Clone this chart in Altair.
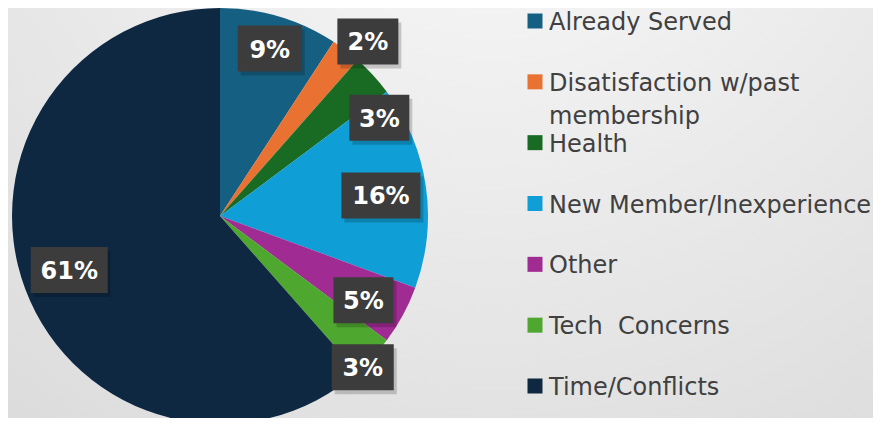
import altair as alt
import pandas as pd

# ---- data ----
CATEGORIES = ["Already Served", "Disatisfaction w/past membership", "Health",
              "New Member/Inexperience", "Other", "Tech\u00a0 Concerns", "Time/Conflicts"]
LEGEND_TEXT = ["Already Served", "Disatisfaction w/past\nmembership", "Health",
               "New Member/Inexperience", "Other", "Tech\u00a0 Concerns", "Time/Conflicts"]
VALUES = [9.2, 2.3, 3.3, 15.8, 4.6, 3.3, 61.5]
LABELS = ["9%", "2%", "3%", "16%", "5%", "3%", "61%"]
COLORS = ["#156082", "#E97132", "#196B24", "#0F9ED5", "#A02B93", "#4EA72E", "#0E2841"]

# ---- layout (label placement like the data-label "best fit") ----
LABEL_RADIUS = [0.84, 1.10, 0.90, 0.78, 0.80, 1.0, 0.77]
LABEL_SHIFT_DEG = [0, 3, 11, 1, 2, 4, 1]
BOX_WIDTH = [64, 61, 60, 79, 60, 62, 77]

W, H = 865, 410
CX, CY, R = 212, 208, 208
BOX_H = 46

df = pd.DataFrame({
    "idx": list(range(len(CATEGORIES))),
    "category": CATEGORIES,
    "legend": LEGEND_TEXT,
    "value": VALUES,
    "label": LABELS,
    "rfrac": LABEL_RADIUS,
    "shift": LABEL_SHIFT_DEG,
    "bw": BOX_WIDTH,
})

color = alt.Color("category:N", scale=alt.Scale(domain=CATEGORIES, range=COLORS), legend=None)

bg = alt.Chart(pd.DataFrame({"a": [0]})).mark_rect(
    fill=alt.RadialGradient(
        gradient="radial",
        stops=[alt.GradientStop(offset=0, color="#fbfbfb"),
               alt.GradientStop(offset=1, color="#d5d5d5")],
        x1=0.56, y1=0.02, r1=0, x2=0.56, y2=0.02, r2=1.1),
).encode(x=alt.value(0), x2=alt.value(W), y=alt.value(0), y2=alt.value(H))

base = alt.Chart(df)

pie = base.mark_arc(outerRadius=R).encode(
    theta=alt.Theta("value:Q", stack=True),
    color=color,
    order=alt.Order("idx:Q"),
    x=alt.value(CX), y=alt.value(CY),
)

lab = base.transform_window(
    cum="sum(value)", sort=[alt.SortField("idx")]
).transform_joinaggregate(
    total="sum(value)"
).transform_calculate(
    ang="2*PI*(datum.cum - datum.value/2)/datum.total + datum.shift*PI/180",
).transform_calculate(
    lx=f"{CX} + datum.rfrac*{R}*sin(datum.ang)",
    ly=f"{CY} - datum.rfrac*{R}*cos(datum.ang)",
    box=f"'M' + (-datum.bw/2) + ',{-BOX_H/2}H' + (datum.bw/2) + 'V{BOX_H/2}H' + (-datum.bw/2) + 'Z'",
)
xenc = alt.X("lx:Q", scale=alt.Scale(domain=[0, W], range=[0, W]), axis=None)
yenc = alt.Y("ly:Q", scale=alt.Scale(domain=[0, H], range=[0, H]), axis=None)

shadow = lab.mark_point(filled=True, size=4, color="#000000", opacity=0.18,
                        strokeWidth=0, xOffset=3, yOffset=4).encode(
    x=xenc, y=yenc, shape=alt.Shape("box:N", scale=None))
box = lab.mark_point(filled=True, size=4, color="#3c3c3c", opacity=1,
                     strokeWidth=0).encode(
    x=xenc, y=yenc, shape=alt.Shape("box:N", scale=None))
txt = lab.mark_text(color="white", font="DejaVu Sans", fontWeight="bold", fontSize=24,
                    align="center", baseline="middle", dy=2).encode(
    x=xenc, y=yenc, text="label:N")

yleg = alt.Y("category:N", sort=CATEGORIES,
             scale=alt.Scale(domain=CATEGORIES, range=[13, 378], padding=0), axis=None)
leg_sq = base.mark_square(size=225, filled=True, opacity=1).encode(
    x=alt.value(527), y=yleg, color=color)
leg_txt = base.mark_text(align="left", baseline="top", lineBreak="\n", lineHeight=33,
                         dy=-10, font="DejaVu Sans", fontSize=24, color="#404040").encode(
    x=alt.value(541), y=yleg, text="legend:N")

chart = alt.layer(bg, pie, shadow, box, txt, leg_sq, leg_txt).resolve_scale(
    y="independent"
).properties(
    width=W, height=H, autosize=alt.AutoSizeParams(type="none"), padding=0
).configure_view(stroke=None)

chart.save("out.html", embed_options={"renderer": "svg", "actions": False})
